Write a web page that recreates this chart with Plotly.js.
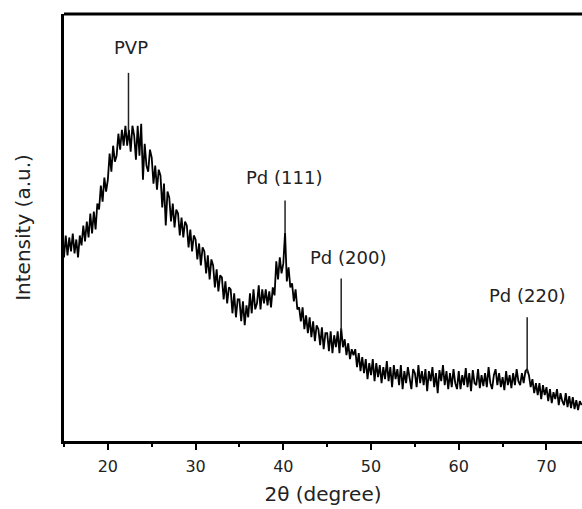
<!DOCTYPE html>
<html>
<head>
<meta charset="utf-8">
<script src="https://cdn.plot.ly/plotly-3.0.1.min.js"></script>
<style>html,body{margin:0;padding:0;background:#fff;}#chart{width:582px;height:509px;}</style>
</head>
<body>
<div id="chart"></div>
<script>
// XRD scan grid (2θ, degrees)
var twoThetaStart = 15.0;
var twoThetaStep = 0.2;

// Intensity (a.u.), one row per degree of 2θ (5 samples per degree)
var intensity = [
  184, 206, 186, 204, 190,   // 15
  208, 188, 202, 184, 206,   // 16
  196, 216, 200, 220, 204,   // 17
  228, 208, 230, 212, 238,   // 18
  232, 256, 240, 264, 250,   // 19
  262, 288, 270, 296, 280,   // 20
  286, 308, 292, 312, 296,   // 21
  316, 296, 312, 290, 316,   // 22
  306, 282, 316, 286, 318,   // 23
  262, 298, 276, 270, 292,   // 24
  284, 258, 276, 252, 272,   // 25
  266, 234, 258, 216, 250,   // 26
  244, 220, 238, 214, 232,   // 27
  228, 206, 224, 204, 220,   // 28
  216, 194, 212, 190, 206,   // 29
  202, 182, 198, 176, 194,   // 30
  190, 168, 186, 162, 182,   // 31
  176, 154, 172, 150, 166,   // 32
  164, 142, 160, 138, 154,   // 33
  152, 128, 148, 124, 142,   // 34
  142, 120, 140, 116, 136,   // 35
  124, 148, 128, 152, 132,   // 36
  138, 156, 132, 152, 138,   // 37
  152, 136, 150, 134, 154,   // 38
  146, 180, 162, 184, 168,   // 39
  178, 209, 160, 174, 154,   // 40
  158, 140, 152, 132, 134,   // 41
  120, 134, 112, 126, 108,   // 42
  124, 104, 120, 100, 116,   // 43
  112, 96, 114, 92, 108,     // 44
  108, 90, 110, 88, 106,     // 45
  94, 110, 88, 113, 94,      // 46
  102, 86, 98, 82, 92,       // 47
  86, 92, 74, 88, 70,        // 48
  84, 68, 82, 62, 78,        // 49
  66, 82, 60, 78, 64,        // 50
  76, 58, 74, 62, 80,        // 51
  60, 74, 54, 76, 62,        // 52
  72, 56, 76, 52, 70,        // 53
  58, 74, 60, 52, 72,        // 54
  68, 54, 76, 58, 70,        // 55
  56, 72, 50, 70, 60,        // 56
  74, 54, 68, 48, 71,        // 57
  60, 76, 56, 70, 52,        // 58
  68, 54, 72, 58, 52,        // 59
  70, 52, 66, 56, 73,        // 60
  54, 68, 50, 71, 58,        // 61
  56, 72, 53, 66, 55,        // 62
  68, 54, 74, 58, 52,        // 63
  66, 72, 56, 68, 54,        // 64
  64, 51, 70, 56, 66,        // 65
  53, 68, 56, 72, 60,        // 66
  56, 68, 58, 70, 72,        // 67
  66, 54, 62, 48, 58,        // 68
  46, 58, 42, 56, 46,        // 69
  54, 40, 52, 38, 49,        // 70
  42, 52, 36, 48, 40,        // 71
  36, 48, 34, 45, 33,        // 72
  44, 32, 41, 31, 40,        // 73
  36                         // 74
];

// Peak assignments
var peakLabels = ['PVP', 'Pd (111)', 'Pd (200)', 'Pd (220)'];
var peakPositions = [22.35, 40.2, 46.6, 67.8];
var peakLineBottom = [311, 209, 111, 68];
var peakLineTop = [369, 241, 163, 124];

// x tick values
var xTickVals = [20, 30, 40, 50, 60, 70];

var twoTheta = intensity.map(function (v, i) {
  return Math.round((twoThetaStart + i * twoThetaStep) * 100) / 100;
});

var trace = {
  x: twoTheta,
  y: intensity,
  type: 'scatter',
  mode: 'lines',
  line: {color: '#000', width: 1.8},
  hoverinfo: 'x+y'
};

var labelOffsetX = [0.25, -0.1, 0.8, 0.0];
var labelGap = [25, 23, 21, 22];

var shapes = [{
  type: 'line', xref: 'paper', yref: 'paper',
  x0: 0, x1: 1, y0: 1, y1: 1,
  line: {color: '#000', width: 3}
}];
var annotations = [];
peakLabels.forEach(function (lab, i) {
  shapes.push({
    type: 'line', xref: 'x', yref: 'y',
    x0: peakPositions[i], x1: peakPositions[i],
    y0: peakLineBottom[i], y1: peakLineTop[i],
    line: {color: '#222', width: 1.5}
  });
  annotations.push({
    x: peakPositions[i] + labelOffsetX[i],
    y: peakLineTop[i] + labelGap[i],
    xref: 'x', yref: 'y',
    text: lab, showarrow: false,
    font: {family: 'DejaVu Sans', size: 18, color: '#222'}
  });
});

var layout = {
  width: 582, height: 509,
  margin: {l: 64, r: 0, t: 14, b: 68},
  paper_bgcolor: '#fff', plot_bgcolor: '#fff',
  showlegend: false,
  xaxis: {
    range: [15, 74.05],
    tickvals: xTickVals,
    ticks: 'outside', ticklen: 6, tickwidth: 2, tickcolor: '#000',
    ticklabelstandoff: 3,
    minor: {dtick: 5, tick0: 15, ticks: 'outside', ticklen: 3, tickwidth: 2, tickcolor: '#000'},
    showline: true, linewidth: 3, linecolor: '#000',
    showgrid: false, zeroline: false,
    tickfont: {family: 'DejaVu Sans', size: 16, color: '#222'},
    title: {text: '2θ (degree)', font: {family: 'DejaVu Sans', size: 20, color: '#222'}, standoff: 12}
  },
  yaxis: {
    range: [0, 428],
    showticklabels: false, ticks: '',
    showline: true, linewidth: 3, linecolor: '#000',
    showgrid: false, zeroline: false,
    title: {text: 'Intensity (a.u.)', font: {family: 'DejaVu Sans', size: 20, color: '#222'}, standoff: 26}
  },
  shapes: shapes,
  annotations: annotations
};

Plotly.newPlot('chart', [trace], layout, {displayModeBar: false, staticPlot: true});
</script>
</body>
</html>
